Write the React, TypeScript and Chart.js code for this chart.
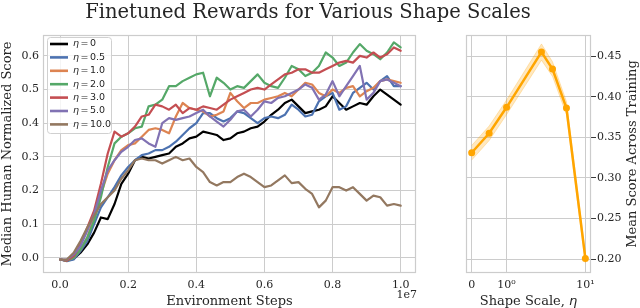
import React, { useEffect, useRef } from 'react';
import { Chart, registerables, LinearScale } from 'chart.js';

// ---------------- data ----------------
const chartTitle = 'Finetuned Rewards for Various Shape Scales';

// environment steps, in units of 1e7
const steps = [
  0, 0.02, 0.04, 0.06, 0.08, 0.1, 0.12, 0.14, 0.16, 0.18,
  0.2, 0.22, 0.24, 0.26, 0.28, 0.3, 0.32, 0.34, 0.36, 0.38,
  0.4, 0.42, 0.44, 0.46, 0.48, 0.5, 0.52, 0.54, 0.56, 0.58,
  0.6, 0.62, 0.64, 0.66, 0.68, 0.7, 0.72, 0.74, 0.76, 0.78,
  0.8, 0.82, 0.84, 0.86, 0.88, 0.9, 0.92, 0.94, 0.96, 0.98, 1.0,
];

const etaLabels = ['0', '0.5', '1.0', '2.0', '3.0', '5.0', '10.0'];
const seriesColors = ['#000000', '#4C72B0', '#DD8452', '#55A868', '#C44E52', '#8172B3', '#937860'];

const eta0 = [
  -0.005, -0.008, -0.003, 0.015, 0.04, 0.075, 0.12, 0.115, 0.16, 0.22,
  0.25, 0.29, 0.3, 0.295, 0.3, 0.305, 0.31, 0.33, 0.34, 0.355,
  0.36, 0.375, 0.37, 0.365, 0.35, 0.355, 0.37, 0.375, 0.385, 0.39,
  0.405, 0.425, 0.44, 0.46, 0.47, 0.45, 0.43, 0.435, 0.44, 0.45,
  0.48, 0.46, 0.44, 0.45, 0.46, 0.455, 0.48, 0.5, 0.485, 0.47, 0.455,
];
const eta05 = [
  -0.005, -0.01, -0.005, 0.02, 0.05, 0.1, 0.15, 0.18, 0.21, 0.245,
  0.27, 0.29, 0.305, 0.31, 0.32, 0.32, 0.33, 0.345, 0.365, 0.385,
  0.4, 0.43, 0.43, 0.415, 0.405, 0.415, 0.435, 0.43, 0.415, 0.4,
  0.415, 0.42, 0.415, 0.425, 0.455, 0.44, 0.42, 0.425, 0.465, 0.48,
  0.49, 0.44, 0.45, 0.49, 0.505, 0.52, 0.5, 0.525, 0.54, 0.51, 0.51,
];
const eta1 = [
  -0.005, -0.008, 0.0, 0.025, 0.06, 0.12, 0.19, 0.25, 0.29, 0.32,
  0.335, 0.34, 0.36, 0.38, 0.385, 0.38, 0.37, 0.42, 0.46, 0.445,
  0.44, 0.435, 0.42, 0.425, 0.435, 0.49, 0.465, 0.445, 0.46, 0.46,
  0.47, 0.475, 0.48, 0.49, 0.48, 0.5, 0.52, 0.515, 0.49, 0.48,
  0.5, 0.49, 0.505, 0.51, 0.48, 0.495, 0.505, 0.525, 0.53, 0.525, 0.52,
];
const eta2 = [
  -0.005, -0.008, 0.0, 0.025, 0.06, 0.11, 0.18, 0.27, 0.34, 0.36,
  0.37, 0.385, 0.39, 0.45, 0.455, 0.47, 0.51, 0.51, 0.525, 0.535,
  0.545, 0.55, 0.48, 0.535, 0.52, 0.5, 0.51, 0.505, 0.525, 0.545,
  0.52, 0.51, 0.505, 0.535, 0.57, 0.56, 0.54, 0.55, 0.57, 0.61,
  0.595, 0.57, 0.58, 0.61, 0.635, 0.615, 0.605, 0.59, 0.61, 0.64, 0.625,
];
const eta3 = [
  -0.005, -0.008, 0.005, 0.04, 0.09, 0.14, 0.22, 0.31, 0.375, 0.36,
  0.37, 0.39, 0.42, 0.425, 0.455, 0.45, 0.44, 0.455, 0.43, 0.445,
  0.44, 0.45, 0.445, 0.44, 0.455, 0.47, 0.48, 0.49, 0.5, 0.505,
  0.5, 0.515, 0.53, 0.545, 0.55, 0.56, 0.56, 0.55, 0.55, 0.56,
  0.57, 0.58, 0.585, 0.58, 0.6, 0.595, 0.61, 0.595, 0.605, 0.625, 0.615,
];
const eta5 = [
  -0.005, -0.005, 0.01, 0.035, 0.08, 0.13, 0.2, 0.26, 0.29, 0.315,
  0.33, 0.35, 0.355, 0.34, 0.33, 0.4, 0.415, 0.41, 0.415, 0.42,
  0.43, 0.44, 0.42, 0.405, 0.39, 0.41, 0.435, 0.44, 0.42, 0.44,
  0.465, 0.46, 0.475, 0.48, 0.49, 0.5, 0.515, 0.505, 0.47, 0.485,
  0.525, 0.48, 0.51, 0.54, 0.57, 0.47, 0.49, 0.525, 0.53, 0.52, 0.51,
];
const eta10 = [
  -0.005, -0.005, 0.015, 0.05, 0.09, 0.125, 0.16, 0.18, 0.2, 0.235,
  0.26, 0.29, 0.295, 0.29, 0.29, 0.28, 0.29, 0.3, 0.29, 0.295,
  0.27, 0.255, 0.225, 0.215, 0.225, 0.225, 0.24, 0.25, 0.24, 0.225,
  0.21, 0.215, 0.23, 0.245, 0.222, 0.225, 0.205, 0.19, 0.15, 0.17,
  0.21, 0.21, 0.2, 0.21, 0.19, 0.17, 0.185, 0.18, 0.155, 0.16, 0.155,
];
const seriesValues = [eta0, eta05, eta1, eta2, eta3, eta5, eta10];

const xTicks = [0, 0.2, 0.4, 0.6, 0.8, 1.0];
const xTickLabels = ['0.0', '0.2', '0.4', '0.6', '0.8', '1.0'];
const yTicks = [0, 0.1, 0.2, 0.3, 0.4, 0.5, 0.6];
const yTickLabels = ['0.0', '0.1', '0.2', '0.3', '0.4', '0.5', '0.6'];

// right panel
const shapeScales = [0, 0.5, 1, 2, 3, 5, 10];
const meanScores = [0.331, 0.355, 0.387, 0.455, 0.434, 0.386, 0.201];
const scoreErr = [0.009, 0.009, 0.009, 0.01, 0.009, 0.008, 0.006];
const symTickValues = [0, 1, 10];
const symTickLabels = ['0', '10\u2070', '10\u00B9'];
const rightYTicks = [0.2, 0.25, 0.3, 0.35, 0.4, 0.45];
const rightYTickLabels = ['0.20', '0.25', '0.30', '0.35', '0.40', '0.45'];

// ---------------- style ----------------
const SERIF = "'DejaVu Serif'";
const SANS = "'DejaVu Sans'";
const TEXT = '#262626';
const GRID = '#cccccc';
const ORANGE = '#FFA500';

// ---------------- symlog scale ----------------
const LINTHRESH = 2;
const LINSCALE = 1;
const LINADJ = LINSCALE / (1 - 1 / 10);
const symFwd = (v: number) => {
  const a = Math.abs(v);
  if (a <= LINTHRESH) return v * LINADJ;
  return Math.sign(v) * LINTHRESH * (LINADJ + Math.log10(a / LINTHRESH));
};
const symInv = (t: number) => {
  const a = Math.abs(t);
  if (a <= LINTHRESH * LINADJ) return t / LINADJ;
  return Math.sign(t) * LINTHRESH * Math.pow(10, a / LINTHRESH - LINADJ);
};

class SymlogScale extends LinearScale {
  static id = 'symlog';
  static defaults = {};
  buildTicks() {
    (this as any).start = this.min;
    (this as any).end = this.max;
    return symTickValues.map((value) => ({ value }));
  }
  getPixelForValue(value: number) {
    const a = symFwd(this.min);
    const b = symFwd(this.max);
    return this.getPixelForDecimal((symFwd(value) - a) / (b - a));
  }
  getValueForPixel(pixel: number) {
    const a = symFwd(this.min);
    const b = symFwd(this.max);
    return symInv(a + this.getDecimalForPixel(pixel) * (b - a));
  }
}

Chart.register(...registerables, SymlogScale as any);

// ---------------- plugins ----------------
const leftDecor = {
  id: 'leftDecor',
  afterDatasetsDraw(chart: any) {
    const { ctx, chartArea } = chart;
    const { left, top, right, bottom } = chartArea;
    ctx.save();
    // frame
    ctx.strokeStyle = GRID;
    ctx.lineWidth = 1.2;
    ctx.strokeRect(left + 0.5, top + 0.5, right - left - 1, bottom - top - 1);
    // offset text
    ctx.fillStyle = TEXT;
    ctx.font = `11px ${SERIF}`;
    ctx.textAlign = 'right';
    ctx.textBaseline = 'middle';
    ctx.fillText('1e7', right + 1, 295);
    // legend
    const bx = left + 4.5;
    const by = top + 2.5;
    const bw = 64;
    const bh = 96;
    const r = 3;
    ctx.beginPath();
    ctx.moveTo(bx + r, by);
    ctx.lineTo(bx + bw - r, by);
    ctx.arcTo(bx + bw, by, bx + bw, by + r, r);
    ctx.lineTo(bx + bw, by + bh - r);
    ctx.arcTo(bx + bw, by + bh, bx + bw - r, by + bh, r);
    ctx.lineTo(bx + r, by + bh);
    ctx.arcTo(bx, by + bh, bx, by + bh - r, r);
    ctx.lineTo(bx, by + r);
    ctx.arcTo(bx, by, bx + r, by, r);
    ctx.closePath();
    ctx.fillStyle = 'rgba(255,255,255,0.8)';
    ctx.fill();
    ctx.strokeStyle = '#d0d0d0';
    ctx.lineWidth = 1;
    ctx.stroke();
    ctx.textAlign = 'left';
    ctx.textBaseline = 'middle';
    etaLabels.forEach((lab, i) => {
      const y = top + 9 + i * 13.4;
      ctx.strokeStyle = seriesColors[i];
      ctx.lineWidth = 2.6;
      ctx.beginPath();
      ctx.moveTo(left + 7, y);
      ctx.lineTo(left + 25, y);
      ctx.stroke();
      ctx.fillStyle = TEXT;
      let x = left + 30;
      ctx.font = `italic 9.5px ${SANS}`;
      ctx.fillText('\u03B7', x, y);
      x += ctx.measureText('\u03B7').width + 1.5;
      ctx.font = `9.5px ${SANS}`;
      ctx.fillText('=', x, y);
      x += ctx.measureText('=').width + 1.5;
      ctx.fillText(lab, x, y);
    });
    ctx.restore();
  },
};

const rightDecor = {
  id: 'rightDecor',
  afterDatasetsDraw(chart: any) {
    const { ctx, chartArea } = chart;
    const { left, top, right, bottom } = chartArea;
    ctx.save();
    ctx.strokeStyle = GRID;
    ctx.lineWidth = 1.2;
    ctx.strokeRect(left + 0.5, top + 0.5, right - left - 1, bottom - top - 1);
    ctx.fillStyle = TEXT;
    ctx.textBaseline = 'middle';
    // y title on the right, reading bottom to top
    ctx.save();
    ctx.translate(203, (top + bottom) / 2);
    ctx.rotate(-Math.PI / 2);
    ctx.textAlign = 'center';
    ctx.font = `13px ${SERIF}`;
    ctx.fillText('Mean Score Across Training', 0, 0);
    ctx.restore();
    // x title with italic eta
    const part1 = 'Shape Scale, ';
    ctx.font = `13px ${SERIF}`;
    const w1 = ctx.measureText(part1).width;
    ctx.font = `italic 13px ${SANS}`;
    const w2 = ctx.measureText('\u03B7').width;
    const x0 = (left + right) / 2 - (w1 + w2) / 2;
    ctx.textAlign = 'left';
    ctx.font = `13px ${SERIF}`;
    ctx.fillText(part1, x0, 302);
    ctx.font = `italic 13px ${SANS}`;
    ctx.fillText('\u03B7', x0 + w1, 302);
    ctx.restore();
  },
};

// ---------------- component ----------------
export default function App() {
  const leftRef = useRef<HTMLCanvasElement>(null);
  const rightRef = useRef<HTMLCanvasElement>(null);

  useEffect(() => {
    const tickFont = { family: SERIF, size: 11 };
    const leftChart = new Chart(leftRef.current as HTMLCanvasElement, {
      type: 'line',
      data: {
        datasets: seriesValues.map((vals, i) => ({
          label: '\u03B7 = ' + etaLabels[i],
          data: steps.map((x, j) => ({ x, y: vals[j] })),
          borderColor: seriesColors[i],
          backgroundColor: seriesColors[i],
          borderWidth: 2.2,
          pointRadius: 0,
          fill: false,
          tension: 0,
          borderJoinStyle: 'round',
          borderCapStyle: 'round',
          order: seriesValues.length - 1 - i,
        })),
      },
      options: {
        animation: false,
        responsive: false,
        devicePixelRatio: 1,
        layout: { padding: { top: 35, right: 14, left: 0, bottom: 0 } },
        plugins: { legend: { display: false }, tooltip: { enabled: false } },
        scales: {
          x: {
            type: 'linear',
            min: -0.05,
            max: 1.045,
            afterBuildTicks: (s: any) => {
              s.ticks = xTicks.map((value) => ({ value }));
            },
            afterFit: (s: any) => {
              s.height = 35;
            },
            grid: { color: GRID, lineWidth: 1, drawTicks: false },
            border: { display: false },
            ticks: {
              font: tickFont,
              color: TEXT,
              padding: 6,
              maxRotation: 0,
              autoSkip: false,
              callback: (_v: any, i: number) => xTickLabels[i],
            },
            title: {
              display: true,
              text: 'Environment Steps',
              font: { family: SERIF, size: 13, lineHeight: 1 },
              color: TEXT,
              padding: { top: 0, bottom: 0 },
            },
          },
          y: {
            type: 'linear',
            min: -0.045,
            max: 0.662,
            afterBuildTicks: (s: any) => {
              s.ticks = yTicks.map((value) => ({ value }));
            },
            afterFit: (s: any) => {
              s.width = 43;
            },
            grid: { color: GRID, lineWidth: 1, drawTicks: false },
            border: { display: false },
            ticks: {
              font: tickFont,
              color: TEXT,
              padding: 4,
              autoSkip: false,
              callback: (_v: any, i: number) => yTickLabels[i],
            },
            title: {
              display: true,
              text: 'Median Human Normalized Score',
              font: { family: SERIF, size: 13, lineHeight: 1 },
              color: TEXT,
              padding: { top: 1, bottom: 0 },
            },
          },
        },
      } as any,
      plugins: [leftDecor],
    } as any);

    const band = 'rgba(255,165,0,0.25)';
    const rightChart = new Chart(rightRef.current as HTMLCanvasElement, {
      type: 'line',
      data: {
        datasets: [
          {
            label: 'mean',
            data: shapeScales.map((x, i) => ({ x, y: meanScores[i] })),
            borderColor: ORANGE,
            backgroundColor: ORANGE,
            borderWidth: 2.5,
            pointRadius: 3.5,
            pointBackgroundColor: ORANGE,
            pointBorderWidth: 0,
            fill: false,
            tension: 0,
            order: 0,
          },
          {
            label: 'upper',
            data: shapeScales.map((x, i) => ({ x, y: meanScores[i] + scoreErr[i] })),
            borderColor: band,
            borderWidth: 1,
            pointRadius: 0,
            fill: false,
            tension: 0,
            order: 1,
          },
          {
            label: 'lower',
            data: shapeScales.map((x, i) => ({ x, y: meanScores[i] - scoreErr[i] })),
            borderColor: band,
            backgroundColor: band,
            borderWidth: 1,
            pointRadius: 0,
            fill: '-1',
            tension: 0,
            order: 2,
          },
        ],
      },
      options: {
        animation: false,
        responsive: false,
        devicePixelRatio: 1,
        layout: { padding: { top: 35, right: 0, left: 36, bottom: 0 } },
        plugins: { legend: { display: false }, tooltip: { enabled: false } },
        scales: {
          x: {
            type: 'symlog',
            min: -0.163,
            max: 12.3,
            afterFit: (s: any) => {
              s.height = 35;
            },
            grid: { color: GRID, lineWidth: 1, drawTicks: false },
            border: { display: false },
            ticks: {
              font: tickFont,
              color: TEXT,
              padding: 6,
              maxRotation: 0,
              autoSkip: false,
              callback: (_v: any, i: number) => symTickLabels[i],
            },
          },
          y: {
            type: 'linear',
            position: 'right',
            min: 0.183,
            max: 0.476,
            afterBuildTicks: (s: any) => {
              s.ticks = rightYTicks.map((value) => ({ value }));
            },
            afterFit: (s: any) => {
              s.width = 49;
            },
            grid: { color: GRID, lineWidth: 1, drawTicks: true, tickLength: 5, tickColor: '#3a3a3a', tickWidth: 1 },
            border: { display: false },
            ticks: {
              font: tickFont,
              color: TEXT,
              padding: 1,
              autoSkip: false,
              callback: (_v: any, i: number) => rightYTickLabels[i],
            },
          },
        },
      } as any,
      plugins: [rightDecor],
    } as any);

    return () => {
      leftChart.destroy();
      rightChart.destroy();
    };
  }, []);

  return (
    <div
      style={{
        position: 'absolute',
        left: 0,
        top: 0,
        width: 640,
        height: 308,
        background: '#ffffff',
        overflow: 'hidden',
      }}
    >
      <canvas
        ref={leftRef}
        width={430}
        height={308}
        style={{ position: 'absolute', left: 0, top: 0, width: 430, height: 308 }}
      />
      <canvas
        ref={rightRef}
        width={210}
        height={308}
        style={{ position: 'absolute', left: 430, top: 0, width: 210, height: 308 }}
      />
      <div
        style={{
          position: 'absolute',
          left: -12,
          top: 2,
          width: 640,
          textAlign: 'center',
          fontFamily: SERIF,
          fontSize: '19.5px',
          lineHeight: '19.5px',
          color: TEXT,
          whiteSpace: 'nowrap',
        }}
      >
        {chartTitle}
      </div>
    </div>
  );
}
